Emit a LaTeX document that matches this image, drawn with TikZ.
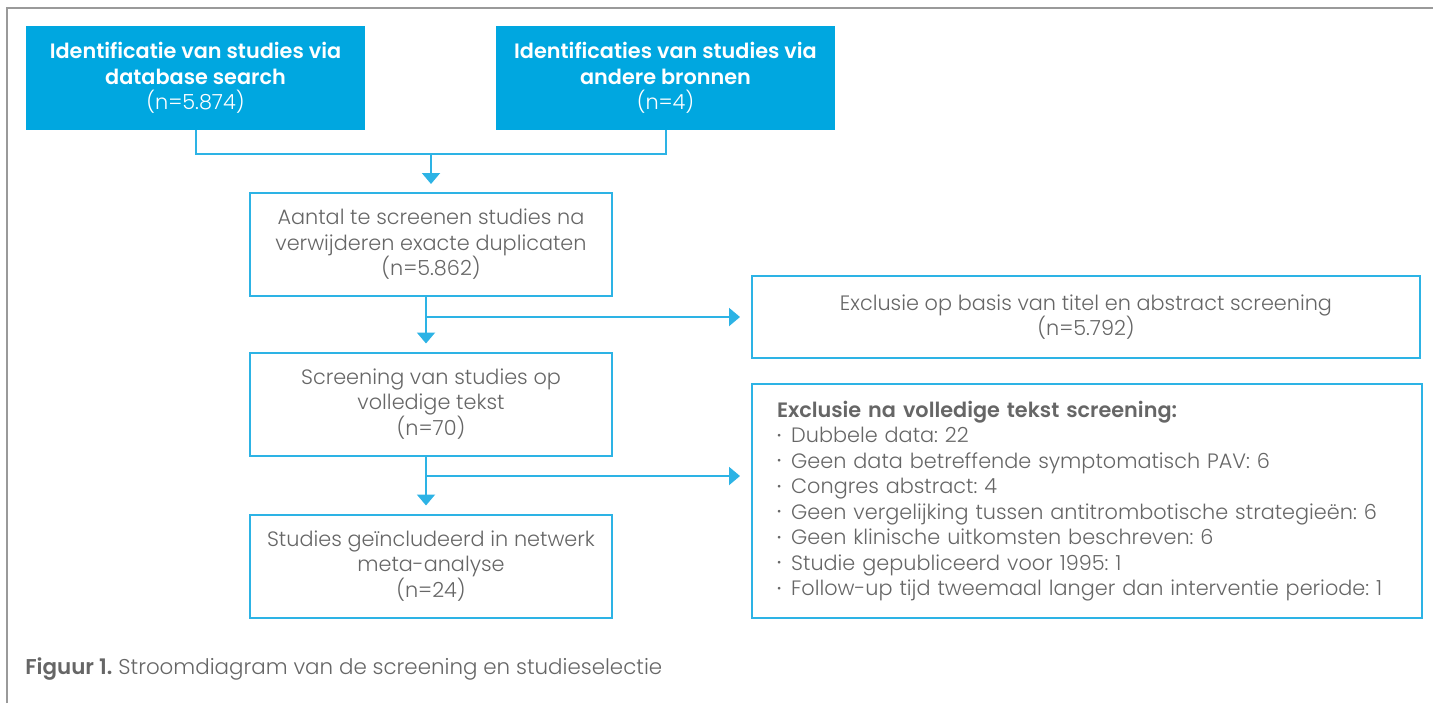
\documentclass[tikz,border=0pt]{standalone}
\usepackage{fontspec}
\setmainfont{Poppins}[UprightFont=* Light, BoldFont=* SemiBold]
\usetikzlibrary{arrows.meta}

\definecolor{vbblue}{HTML}{00A7E0}
\definecolor{vbline}{HTML}{2DB3E5}
\definecolor{vbgray}{HTML}{666666}
\definecolor{framegray}{HTML}{9A9A9A}
\newcommand{\itm}{\raisebox{0.3ex}{\scalebox{0.55}{•}}\hspace{5pt}}
\frenchspacing

\begin{document}
\begin{tikzpicture}[x=0.5pt, y=-0.5pt,
  every node/.style={font=\fontsize{10.4}{12.75}\selectfont, inner sep=0pt},
  srcbox/.style={fill=vbblue, text=white, align=center, minimum width=169.5pt, minimum height=52pt},
  stepbox/.style={draw=vbline, line width=1pt, text=vbgray, align=center, minimum width=181pt, minimum height=51.5pt},
  flow/.style={draw=vbline, line width=1pt},
  arr/.style={flow, -{Triangle[width=9pt,length=5.5pt]}, shorten >=4pt}]
  \useasboundingbox (0,0) rectangle (1433,703);
  \draw[framegray, line width=1pt] (7,703) -- (7,8) -- (1433,8);

  % bronnen
  \node[srcbox] (dbsearch) at (195.5,78) {\textbf{Identificatie van studies via}\\\textbf{database search}\\(n=5.874)};
  \node[srcbox] (andere) at (665.5,78) {\textbf{Identificaties van studies via}\\\textbf{andere bronnen}\\(n=4)};

  % screening
  \node[stepbox] (aantal) at (431,244.5) {Aantal te screenen studies na\\verwijderen exacte duplicaten\\(n=5.862)};
  \node[stepbox] (screening) at (431,404) {Screening van studies op\\volledige tekst\\(n=70)};
  \node[stepbox] (included) at (431,566) {Studies geïncludeerd in netwerk\\meta-analyse\\(n=24)};

  % exclusies
  \node[stepbox, minimum width=334pt, minimum height=41pt] (titelabs) at (1086,317) {Exclusie op basis van titel en abstract screening\\(n=5.792)};
  \node[stepbox, align=left, text width=310pt, inner xsep=12.5pt, minimum height=117pt] (volltekst) at (1087,501) {%
    \textbf{Exclusie na volledige tekst screening:}\\
    \itm Dubbele data: 22\\
    \itm Geen data betreffende symptomatisch PAV: 6\\
    \itm Congres abstract: 4\\
    \itm Geen vergelijking tussen antitrombotische strategieën: 6\\
    \itm Geen klinische uitkomsten beschreven: 6\\
    \itm Studie gepubliceerd voor 1995: 1\\
    \itm Follow-up tijd tweemaal langer dan interventie periode: 1};

  % verbindingen
  \coordinate (join) at (431,154);
  \draw[flow] (dbsearch.south) |- (join) -| (andere.south);
  \draw[arr] (join) -- (aantal.north);

  \coordinate (split1) at (426,317);
  \draw[arr] (aantal.south -| split1) -- (screening.north -| split1);
  \draw[arr, shorten >=5.5pt] (split1) -- (titelabs.west |- split1);

  \coordinate (split2) at (426,476);
  \draw[arr] (screening.south -| split2) -- (included.north -| split2);
  \draw[arr, shorten >=5.5pt] (split2) -- (volltekst.west |- split2);

  \node[anchor=west, text=vbgray, font=\fontsize{10.7}{13}\selectfont] (caption) at (25,669) {\textbf{Figuur 1.} Stroomdiagram van de screening en studieselectie};
\end{tikzpicture}
\end{document}
